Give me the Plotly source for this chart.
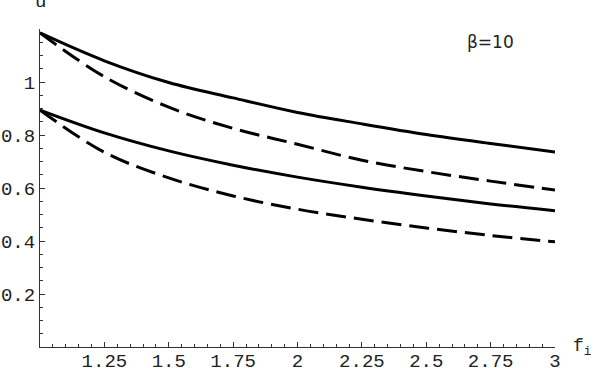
import plotly.graph_objects as go

# f_i grid and u values
f_i = [1.0, 1.25, 1.5, 1.75, 2.0, 2.25, 2.5, 2.75, 3.0]
upper_solid = [1.185, 1.080, 0.998, 0.940, 0.885, 0.842, 0.802, 0.768, 0.736]
upper_dashed = [1.185, 1.020, 0.905, 0.825, 0.765, 0.705, 0.662, 0.626, 0.592]
lower_solid = [0.894, 0.808, 0.740, 0.686, 0.641, 0.603, 0.570, 0.540, 0.514]
lower_dashed = [0.894, 0.735, 0.638, 0.570, 0.520, 0.482, 0.449, 0.421, 0.397]

x_ticks = [1.25, 1.5, 1.75, 2, 2.25, 2.5, 2.75, 3]
x_labels = ['1.25', '1.5', '1.75', '2', '2.25', '2.5', '2.75', '3']
y_ticks = [0.2, 0.4, 0.6, 0.8, 1.0]
y_labels = ['0.2', '0.4', '0.6', '0.8', '1']

mono = 'Liberation Mono, Courier New, monospace'

fig = go.Figure()
for ys, dash in [(upper_solid, 'solid'), (upper_dashed, '20px,8px'),
                 (lower_solid, 'solid'), (lower_dashed, '20px,8px')]:
    fig.add_trace(go.Scatter(x=f_i, y=ys, mode='lines', line_shape='spline',
                             line=dict(color='black', width=3, dash=dash),
                             showlegend=False, hoverinfo='skip'))

axis_common = dict(showgrid=False, zeroline=False, showline=True, linecolor='#333',
                   linewidth=1, ticks='inside', ticklen=5, tickcolor='#333',
                   automargin=False,
                   tickfont=dict(family=mono, size=19, color='#222'))

fig.update_xaxes(range=[1, 3], tickmode='array', tickvals=x_ticks, ticktext=x_labels,
                 ticklabelstandoff=-4,
                 minor=dict(ticks='inside', ticklen=3, tickcolor='#333', dtick=0.05, tick0=1),
                 **axis_common)
fig.update_yaxes(range=[0, 1.2], tickmode='array', tickvals=y_ticks, ticktext=y_labels,
                 minor=dict(ticks='inside', ticklen=3, tickcolor='#333', dtick=0.05, tick0=0),
                 **axis_common)

fig.add_annotation(x=2.75, y=1.151, text='\u03b2=10', showarrow=False,
                   font=dict(family='DejaVu Sans, Arial', size=17, color='#222'))
fig.add_annotation(x=0, y=1, xref='paper', yref='paper', xanchor='center', yanchor='middle',
                   yshift=27, text='u', showarrow=False,
                   font=dict(family=mono, size=19, color='#222'))
fig.add_annotation(x=1, y=0, xref='paper', yref='paper', xanchor='left', yanchor='middle',
                   xshift=16, yshift=0, text='f<sub>i</sub>', showarrow=False,
                   font=dict(family=mono, size=18, color='#222'))

fig.update_layout(width=594, height=368, plot_bgcolor='white', paper_bgcolor='white',
                  margin=dict(l=40, r=39, t=29, b=21))

fig.write_html('out.html', config={'displayModeBar': False},
               post_script="document.body.style.margin='0';")
